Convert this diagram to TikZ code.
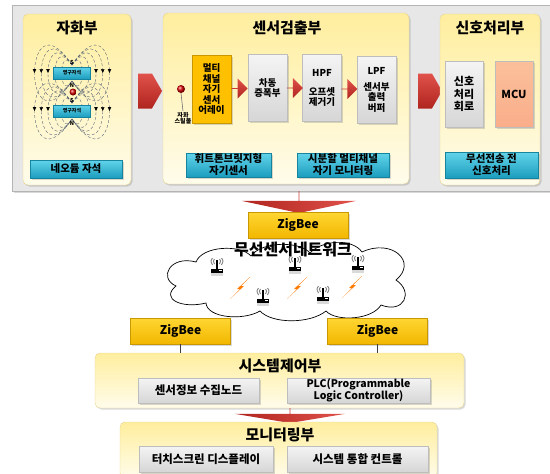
\documentclass[tikz,border=0pt]{standalone}
\usepackage{fontspec}
\setmainfont{Noto Sans CJK KR}
\usetikzlibrary{positioning,calc,shapes.arrows,shadows,decorations.markings,arrows.meta}

\definecolor{bgfill}{HTML}{E7E7E7}
\definecolor{bgline}{HTML}{B4B4B4}
\definecolor{paneltop}{HTML}{FFEE9E}
\definecolor{panelbot}{HTML}{FFFCEB}
\definecolor{panelline}{HTML}{E6D48E}
\definecolor{cyantop}{HTML}{62D4EA}
\definecolor{cyanbot}{HTML}{1C9DBE}
\definecolor{cyanline}{HTML}{17849F}
\definecolor{boxtop}{HTML}{F4F4F4}
\definecolor{boxbot}{HTML}{D6D6D6}
\definecolor{boxline}{HTML}{BDBDBD}
\definecolor{goldfill}{HTML}{FFC000}
\definecolor{zigtop}{HTML}{FFD633}
\definecolor{zigbot}{HTML}{F2B700}
\definecolor{zigline}{HTML}{C99700}
\definecolor{mcufill}{HTML}{FAC09A}
\definecolor{redtop}{HTML}{E0524B}
\definecolor{redbot}{HTML}{B0241F}
\definecolor{fieldline}{HTML}{4A5A70}
\definecolor{boltorange}{HTML}{FF7A00}

% small wireless node and lightning bolt used in the network cloud
\tikzset{
  router/.pic={
    \fill[black!15] (-6,3) rectangle (6,6);
    \fill[black] (-6,-1) rectangle (6,3);
    \fill[white] (2,0.3) rectangle (4.5,1.3);
    \draw[line width=1.2pt] (0,-1) -- (0,-10);
    \draw[gray,line width=.9pt] (-2.5,-11) .. controls (-4,-9) .. (-2.5,-6);
    \draw[gray,line width=.9pt] (-4.5,-12) .. controls (-6.5,-9) .. (-4.5,-5);
    \draw[gray,line width=.9pt] (2.5,-11) .. controls (4,-9) .. (2.5,-6);
    \draw[gray,line width=.9pt] (4.5,-12) .. controls (6.5,-9) .. (4.5,-5);
  },
  bolt/.pic={
    \fill[boltorange] (10,-11) -- (-3,1) -- (0,1) -- (-10,11) -- (4,-2) -- (1,-2) -- cycle;
  }
}

\begin{document}
\begin{tikzpicture}[x=1pt,y=-1pt,font=\bfseries,
    softshadow/.style={drop shadow={shadow xshift=1.5pt,shadow yshift=-1.5pt,opacity=.3}},
    panel/.style={rounded corners=5pt,draw=panelline,top color=paneltop,bottom color=panelbot,softshadow},
    title/.style={font=\fontsize{15}{16}\selectfont\bfseries},
    cyanbox/.style={draw=cyanline,top color=cyantop,bottom color=cyanbot,inner sep=1pt,align=center,
      font=\fontsize{10.5}{12}\selectfont\bfseries,softshadow},
    graybox/.style={draw=boxline,top color=boxtop,bottom color=boxbot,inner sep=1pt,align=center,
      font=\fontsize{9.5}{10.5}\selectfont\bfseries,softshadow},
    widebox/.style={graybox,font=\fontsize{11.5}{12.5}\selectfont\bfseries},
    goldbox/.style={graybox,draw=zigline,top color=goldfill,bottom color=goldfill},
    zigbox/.style={draw=zigline,top color=zigtop,bottom color=zigbot,minimum width=100pt,minimum height=26pt,
      font=\fontsize{12}{13}\selectfont\bfseries,softshadow},
    magnet/.style={draw=cyanline,top color=cyantop,bottom color=cyanbot,minimum width=37pt,minimum height=12pt,
      inner sep=0pt,font=\fontsize{5}{5}\selectfont\bfseries},
    pole/.style={inner sep=0pt,font=\fontsize{5.5}{6}\selectfont\bfseries},
    field/.style={densely dashed,fieldline,line width=.35pt},
    fieldarrow/.style={postaction={decorate,decoration={markings,
      mark=at position .5 with {\arrow{Triangle[length=4pt,width=3.4pt]}}}}},
    blockarrow/.style={single arrow,draw=none,inner sep=0pt,top color=redtop,bottom color=redbot},
    downarrow/.style={single arrow,shape border rotate=270,draw=none,inner sep=0pt,
      left color=redbot,right color=redtop}]

  \useasboundingbox (0,0) rectangle (550,474);

  % grey frame for the sensor module
  \node[draw=bgline,fill=bgfill,minimum width=541pt,minimum height=186pt,softshadow] (sysbg) at (282.5,98) {};

  % magnetizing part
  \node[panel,minimum width=108pt,minimum height=171pt] (magp) at (77,99.5) {};
  \node[title] (magt) at (77,28) {자화부};
  \foreach \my in {73,111}{
    \foreach \a in {14,23,32,41,50}{
      \draw[field] (72,\my-8) .. controls (72-\a,\my-8-1.5*\a) and (72-\a,\my+8+1.5*\a) .. (72,\my+8);
      \draw[field] (72,\my-8) .. controls (72+\a,\my-8-1.5*\a) and (72+\a,\my+8+1.5*\a) .. (72,\my+8);
    }
    \foreach \a in {32,41,50}{
      \path[fieldarrow] (72,\my-8) .. controls (72-\a,\my-8-1.5*\a) and (72-\a,\my+8+1.5*\a) .. (72,\my+8);
      \path[fieldarrow] (72,\my-8) .. controls (72+\a,\my-8-1.5*\a) and (72+\a,\my+8+1.5*\a) .. (72,\my+8);
    }
  }
  \node[magnet] (mag1) at (72,73) {영구자석};
  \node[magnet] (mag2) at (72,111) {영구자석};
  \node[pole] (s1) at (72,62) {S};
  \node[pole] (n1) at (72,85) {N};
  \node[pole] (s2) at (72,100) {S};
  \node[pole] (n2) at (72,123) {N};
  \node[circle,ball color=red!85!black,minimum size=7pt,inner sep=0pt] (ball) at (73,92) {};
  \node[cyanbox,minimum width=92pt,minimum height=18pt] (neo) at (76,169) {네오듐 자석};

  \node[blockarrow,single arrow head extend=0pt,single arrow tip angle=120,
    minimum height=24pt,minimum width=35pt] (ar1) at (145,91) {};

  % sensor detection part
  \node[panel,minimum width=246pt,minimum height=171pt] (sensp) at (286,98.5) {};
  \node[title] (senst) at (287,28) {센서검출부};
  \node[circle,ball color=red!85!black,minimum size=8pt,inner sep=0pt] (pin) at (181,89) {};
  \draw[black!55,line width=.6pt] (pin.south) -- ++(2,18) coordinate (pinend);
  \node[inner sep=0pt,align=center,font=\fontsize{6}{6.5}\selectfont\bfseries,below=1pt of pinend] (pinlbl) {자화\\스틸볼};
  \node[goldbox,minimum width=39pt,minimum height=68pt] (mca) at (211.5,89) {멀티\\채널\\자기\\센서\\어레이};
  \node[graybox,minimum width=39pt,minimum height=67pt] (amp) at (267.5,88) {차동\\증폭부};
  \node[graybox,minimum width=39pt,minimum height=67pt] (hpf) at (322,88) {HPF\\[8pt]오프셋\\제거기};
  \node[graybox,minimum width=39pt,minimum height=67pt] (lpf) at (376.5,90) {LPF\\[5pt]센서부\\출력\\버퍼};
  \foreach \from/\to [count=\i] in {mca/amp,amp/hpf,hpf/lpf}
    \node[blockarrow,single arrow head extend=4pt,minimum height=16pt,minimum width=20pt]
      (sa\i) at ($(\from.east)!.5!(\to.west)$) {};
  \node[cyanbox,minimum width=85pt,minimum height=24pt] (wheat) at (228.5,165) {휘트톤브릿지형\\자기센서};
  \node[cyanbox,minimum width=92pt,minimum height=24pt] (tdm) at (343,165) {시분할 멀티채널\\자기 모니터링};

  \node[blockarrow,single arrow head extend=0pt,single arrow tip angle=120,
    minimum height=24pt,minimum width=35pt] (ar2) at (425,91) {};

  % signal processing part
  \node[panel,minimum width=100pt,minimum height=171pt] (sigp) at (490,99.5) {};
  \node[title] (sigt) at (490,28) {신호처리부};
  \node[graybox,minimum width=38pt,minimum height=66pt,font=\fontsize{11}{12.5}\selectfont\bfseries] (sigc) at (464,94) {신호\\처리\\회로};
  \node[graybox,fill=mcufill,top color=mcufill,bottom color=mcufill!90!red,minimum width=38pt,minimum height=66pt,
    font=\fontsize{11}{12}\selectfont\bfseries] (mcu) at (514,94) {MCU};
  \node[cyanbox,minimum width=93pt,minimum height=26pt] (wtx) at (491.5,165) {무선전송 전\\신호처리};

  % wireless sensor network
  \node[downarrow,minimum height=22pt,minimum width=114pt,single arrow head extend=28pt,
    single arrow tip angle=156] (bigdown) at (299,202) {};
  \node[zigbox] (zbtop) at (298,225) {ZigBee};
  \draw[fill=white,line width=.7pt] (176,286)
    .. controls (158,278) and (170,255) .. (196,262)
    .. controls (202,246) and (240,244) .. (251,256)
    .. controls (262,241) and (300,241) .. (310,253)
    .. controls (322,240) and (352,238) .. (362,252)
    .. controls (392,238) and (418,262) .. (396,280)
    .. controls (414,292) and (404,314) .. (381,305)
    .. controls (372,320) and (336,322) .. (326,311)
    .. controls (310,324) and (272,324) .. (260,311)
    .. controls (243,321) and (207,318) .. (206,303)
    .. controls (182,309) and (160,299) .. (176,286) -- cycle;
  \node[font=\fontsize{16}{17}\selectfont\bfseries] (nett) at (293,250) {무선센서네트워크};
  \foreach \px/\py in {217/270,295/268,358/267,263/300,323/298}
    \pic at (\px,\py) {router};
  \foreach \px/\py in {240/288,297/288,352/287}
    \pic at (\px,\py) {bolt};

  \node[zigbox] (zbl) at (180.5,331) {ZigBee};
  \node[zigbox] (zbr) at (377.5,331) {ZigBee};

  % system control part
  \node[panel,minimum width=369pt,minimum height=55pt] (ctrl) at (279.5,380.5) {};
  \node[title] (ctrlt) at (280,366) {시스템제어부};
  \node[widebox,minimum width=121pt,minimum height=25pt] (collect) at (198.5,390.5) {센서정보 수집노드};
  \node[widebox,minimum width=143pt,minimum height=25pt,font=\fontsize{10.5}{11.5}\selectfont\bfseries] (plc) at (358.5,390.5) {PLC(Programmable\\Logic Controller)};
  \draw[black!75,line width=1pt] (zbl) -- (zbl |- ctrl.north);
  \draw[black!75,line width=1pt] (zbr) -- (zbr |- ctrl.north);

  \node[downarrow,minimum height=15pt,minimum width=110pt,single arrow head extend=25pt,
    single arrow tip angle=161] (smalldown) at (290,415.5) {};

  % monitoring part
  \node[panel,minimum width=317pt,minimum height=56pt] (mon) at (278.5,450) {};
  \node[title] (mont) at (280,435) {모니터링부};
  \node[widebox,minimum width=134pt,minimum height=26pt] (touch) at (206,459) {터치스크린 디스플레이};
  \node[widebox,minimum width=141pt,minimum height=26pt] (integ) at (357.5,459) {시스템 통합 컨트롤};
\end{tikzpicture}
\end{document}
